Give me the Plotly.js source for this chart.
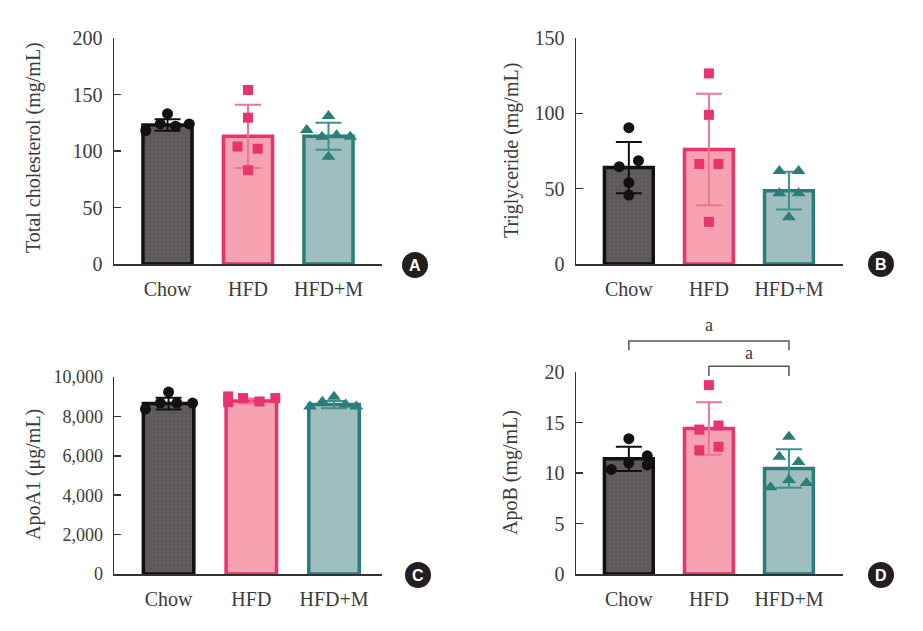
<!DOCTYPE html>
<html><head><meta charset="utf-8">
<script src="https://cdn.plot.ly/plotly-3.0.1.min.js"></script>
<style>html,body{margin:0;padding:0;background:#fff}#chart{width:923px;height:631px}</style>
</head><body><div id="chart"></div>
<script>
// ---------------- DATA ----------------
const categories = ['Chow', 'HFD', 'HFD+M'];

// A: Total cholesterol (mg/mL)
const cholMean = [123, 113, 113];
const cholSD = [5, 28, 12];
const cholChow = [118, 124, 133, 122, 124];
const cholHFD = [154, 129.5, 104, 102, 83];
const cholHFDM = [118.6, 112.7, 131, 114, 112.7, 95];
const cholChowJit = [-0.27, -0.09, 0, 0.1, 0.27];
const cholHFDJit = [0, 0, -0.13, 0.12, 0];
const cholHFDMJit = [-0.27, -0.08, 0, 0.1, 0.27, 0];

// B: Triglyceride (mg/mL)
const tgMean = [64, 76, 48.7];
const tgSD = [17, 37, 12.5];
const tgChow = [90.5, 68.6, 64.6, 54, 45.8];
const tgHFD = [126.5, 99, 66.4, 66.4, 28];
const tgHFDM = [61.7, 61.7, 47, 47, 31];
const tgChowJit = [0, 0.12, -0.12, 0, 0];
const tgHFDJit = [0, 0, -0.12, 0.12, 0];
const tgHFDMJit = [-0.12, 0.12, -0.12, 0.12, 0];

// C: ApoA1 (ug/mL)
const a1Mean = [8650, 8780, 8600];
const a1SD = [300, 130, 180];
const a1Chow = [9237, 8678, 8678, 8678, 8373];
const a1HFD = [9015, 8930, 8760, 8930, 8720];
const a1HFDM = [8500, 8750, 9000, 8600, 8500];
const a1ChowJit = [0, -0.1, 0.1, 0.29, -0.28];
const a1HFDJit = [-0.28, -0.1, 0.1, 0.29, -0.28];
const a1HFDMJit = [-0.29, -0.14, 0, 0.14, 0.27];

// D: ApoB (mg/mL)
const bMean = [11.4, 14.4, 10.45];
const bSD = [1.2, 2.6, 1.9];
const bChow = [10.35, 11.0, 13.4, 11.7, 10.8];
const bHFD = [18.7, 14.3, 14.7, 12.25, 12.6];
const bHFDM = [13.6, 11.6, 11.1, 9.3, 8.6, 9.0];
const bChowJit = [-0.22, 0, 0, 0.23, 0.23];
const bHFDJit = [0, -0.12, 0.12, -0.12, 0.12];
const bHFDMJit = [0, -0.12, 0.12, 0, -0.23, 0.22];

const yTitles = ['Total cholesterol (mg/mL)', 'Triglyceride (mg/mL)', 'ApoA1 (\u03bcg/mL)', 'ApoB (mg/mL)'];
const panelLetters = ['A', 'B', 'C', 'D'];
const sigLabel = 'a';

// ---------------- STYLE ----------------
const W = 923, H = 631;
const FONT = 'Liberation Serif, Times New Roman, serif';
const TXT = '#3b3b3b';
const groupStyle = [
  {fill: '#5e5858', dot: '#a89f86', line: '#111111', err: '#111111', pt: '#111111', symbol: 'circle', size: 11},
  {fill: '#f6a1b1', dot: '#f3cf8a', line: '#e8336d', err: '#f07592', pt: '#e8336d', symbol: 'square', size: 10},
  {fill: '#9dbdbe', dot: '#bfd0c4', line: '#2b7d7a', err: '#3f8f8c', pt: '#2b7d7a', symbol: 'triangle-up', size: 12}
];
const px = (x) => x / W;
const py = (y) => 1 - y / H;

const panels = [
  {mean: cholMean, sd: cholSD, pts: [cholChow, cholHFD, cholHFDM], jit: [cholChowJit, cholHFDJit, cholHFDMJit],
   xd: [114, 382], yd: [38, 264], xr: [-0.665, 2.665], yr: [0, 200], dtick: 50, fmt: '', tsize: 20,
   title: {x: 33, y: 148}, letter: {x: 415, y: 265}},
  {mean: tgMean, sd: tgSD, pts: [tgChow, tgHFD, tgHFDM], jit: [tgChowJit, tgHFDJit, tgHFDMJit],
   xd: [576, 843], yd: [38, 264], xr: [-0.66, 2.675], yr: [0, 150], dtick: 50, fmt: '', tsize: 20,
   title: {x: 511, y: 150}, letter: {x: 881, y: 264}},
  {mean: a1Mean, sd: a1SD, pts: [a1Chow, a1HFD, a1HFDM], jit: [a1ChowJit, a1HFDJit, a1HFDMJit],
   xd: [114, 382], yd: [377, 574], xr: [-0.66, 2.58], yr: [0, 10000], dtick: 2000, fmt: ',', tsize: 18,
   title: {x: 33, y: 475}, letter: {x: 418, y: 575}},
  {mean: bMean, sd: bSD, pts: [bChow, bHFD, bHFDM], jit: [bChowJit, bHFDJit, bHFDMJit],
   xd: [576, 843], yd: [372, 574], xr: [-0.66, 2.675], yr: [0, 20], dtick: 5, fmt: '', tsize: 20,
   title: {x: 511, y: 472}, letter: {x: 881, y: 575}}
];

const data = [];
const layout = {
  width: W, height: H, margin: {l: 0, r: 0, t: 0, b: 0},
  paper_bgcolor: '#ffffff', plot_bgcolor: 'rgba(0,0,0,0)',
  showlegend: false, barmode: 'overlay',
  font: {family: FONT, color: TXT, size: 20},
  shapes: [], annotations: []
};

panels.forEach((p, k) => {
  const n = k + 1;
  const xa = 'x' + (n === 1 ? '' : n), ya = 'y' + (n === 1 ? '' : n);
  const xKey = 'xaxis' + (n === 1 ? '' : n), yKey = 'yaxis' + (n === 1 ? '' : n);
  categories.forEach((c, i) => {
    const s = groupStyle[i];
    data.push({
      type: 'bar', x: [i], y: [p.mean[i]], width: 0.61, xaxis: xa, yaxis: ya,
      marker: {color: s.fill, line: {color: s.line, width: 3.5},
               pattern: {shape: '.', bgcolor: s.fill, fgcolor: s.dot, fgopacity: 0.3, size: 4, solidity: 0.08}},
      error_y: {type: 'data', array: [p.sd[i]], visible: true, color: s.err, thickness: 2, width: 13},
      hoverinfo: 'skip'
    });
    data.push({
      type: 'scatter', mode: 'markers', xaxis: xa, yaxis: ya,
      x: p.pts[i].map((v, j) => i + p.jit[i][j]), y: p.pts[i],
      marker: {symbol: s.symbol, size: s.size, color: s.pt, line: {width: 0}},
      cliponaxis: false, hoverinfo: 'skip'
    });
  });
  layout[xKey] = {
    domain: [px(p.xd[0]), px(p.xd[1])], range: p.xr, anchor: ya,
    tickvals: [0, 1, 2], ticktext: categories, ticks: '', showgrid: false, zeroline: false,
    showline: true, linecolor: '#333333', linewidth: 1.5, ticklabelstandoff: 6,
    tickfont: {family: FONT, size: 20, color: TXT}, fixedrange: true
  };
  layout[yKey] = {
    domain: [py(p.yd[1]), py(p.yd[0])], range: p.yr, anchor: xa,
    tick0: 0, dtick: p.dtick, tickformat: p.fmt, ticks: 'inside', ticklen: 7, tickwidth: 1.5, tickcolor: '#333333',
    showgrid: false, zeroline: false, showline: true, linecolor: '#333333', linewidth: 1.5,
    ticklabelstandoff: 6, tickfont: {family: FONT, size: p.tsize, color: TXT}, fixedrange: true
  };
  layout.annotations.push({
    xref: 'paper', yref: 'paper', x: px(p.title.x), y: py(p.title.y), text: yTitles[k],
    textangle: -90, showarrow: false, xanchor: 'center', yanchor: 'middle',
    font: {family: FONT, size: 20, color: TXT}
  });
  // panel letter badge
  const r = 13;
  layout.shapes.push({
    type: 'circle', xref: 'paper', yref: 'paper',
    x0: px(p.letter.x - r), x1: px(p.letter.x + r), y0: py(p.letter.y + r), y1: py(p.letter.y - r),
    fillcolor: '#231f20', line: {width: 0}
  });
  layout.annotations.push({
    xref: 'paper', yref: 'paper', x: px(p.letter.x), y: py(p.letter.y), text: '<b>' + panelLetters[k] + '</b>',
    showarrow: false, xanchor: 'center', yanchor: 'middle',
    font: {family: 'Liberation Sans, Arial, sans-serif', size: 16, color: '#ffffff'}
  });
});

// significance brackets on panel D (y in domain fractions of y4 so they can sit above the axis)
const dTop = 20;
const brackets = [
  {from: 0, to: 2, top: 23.06, foot: 22.15, labelY: 24.7},
  {from: 1, to: 2, top: 20.56, foot: 19.6, labelY: 21.9}
];
brackets.forEach(b => {
  const t = b.top / dTop, f = b.foot / dTop;
  layout.shapes.push({
    type: 'path', xref: 'x4', yref: 'y4 domain',
    path: `M ${b.from},${f} L ${b.from},${t} L ${b.to},${t} L ${b.to},${f}`,
    line: {color: '#555555', width: 1.5}
  });
  layout.annotations.push({
    xref: 'x4', yref: 'y4 domain', x: (b.from + b.to) / 2, y: b.labelY / dTop, text: sigLabel,
    showarrow: false, xanchor: 'center', yanchor: 'middle',
    font: {family: FONT, size: 18, color: TXT}
  });
});

Plotly.newPlot('chart', data, layout, {displayModeBar: false, staticPlot: true});
</script>
</body></html>
